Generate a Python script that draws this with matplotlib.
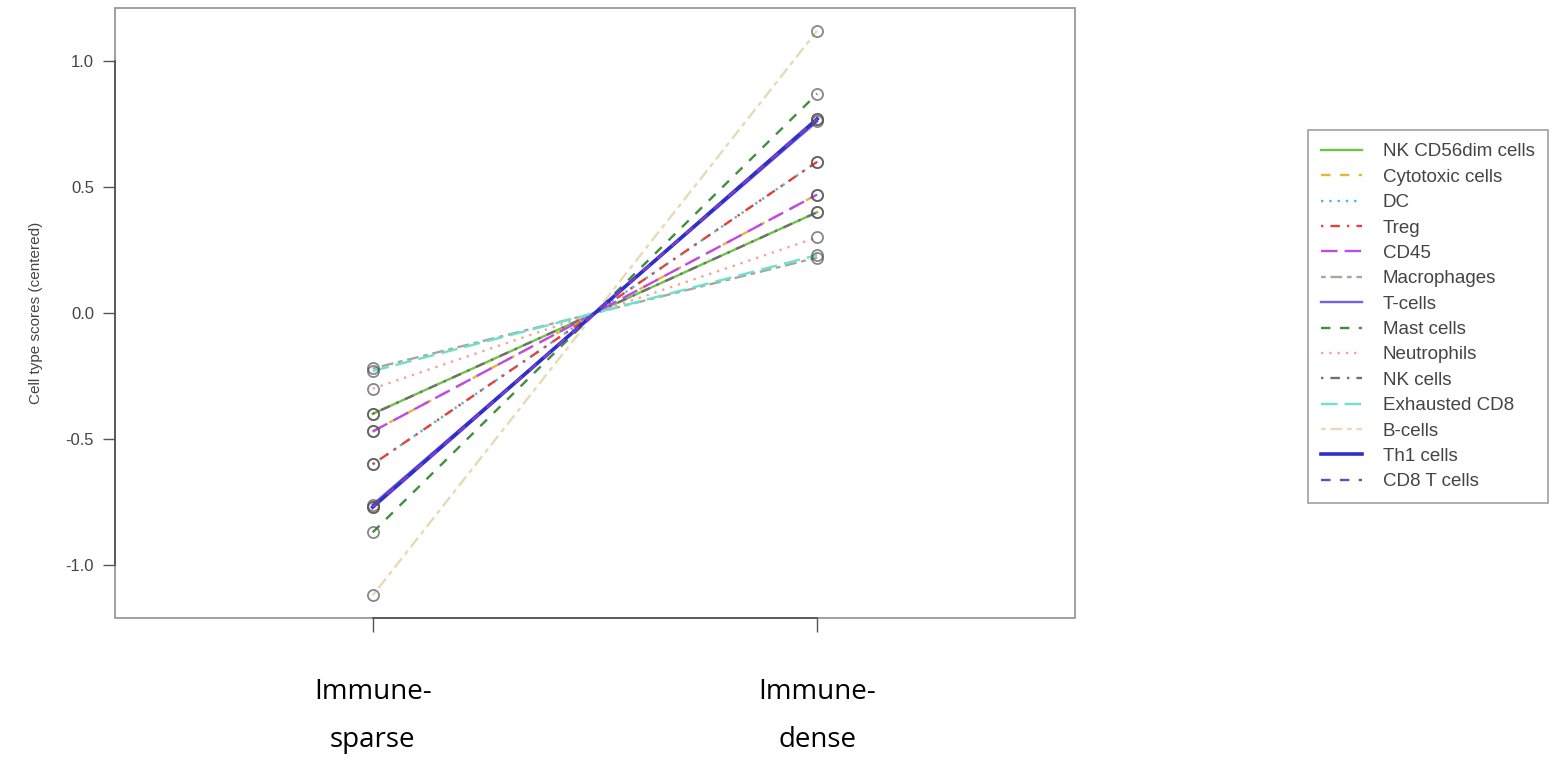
import matplotlib.pyplot as plt
from matplotlib.patches import Rectangle

# data
groups = ["Immune-\nsparse", "Immune-\ndense"]
cell_types = ["NK CD56dim cells", "Cytotoxic cells", "DC", "Treg", "CD45",
              "Macrophages", "T-cells", "Mast cells", "Neutrophils", "NK cells",
              "Exhausted CD8", "B-cells", "Th1 cells", "CD8 T cells"]
dense_scores = [0.40, 0.47, 0.60, 0.60, 0.47, 0.22, 0.76, 0.87, 0.30, 0.40,
                0.23, 1.12, 0.77, 0.77]
sparse_scores = [-v for v in dense_scores]

colors = ["#6cc644", "#e8b53a", "#4fb8e0", "#e0443c", "#c04ae8", "#a8a898",
          "#7262dc", "#3f8f3f", "#f2a49c", "#707070", "#6fe0cf", "#e9d9b4",
          "#2e2ec8", "#7a3fd0"]
styles = ["-", (0, (4, 4)), (0, (1, 2.5)), (0, (1, 3, 4, 3)), (0, (7, 3)),
          (0, (2, 2, 5, 2))]
widths = [1.7] * 12 + [2.6, 1.7]

plt.rcParams['font.family'] = ['Liberation Sans', 'DejaVu Sans']

fig = plt.figure(figsize=(15.66, 7.57), dpi=100)
ax = fig.add_axes([0.0734, 0.1836, 0.6130, 0.8058])

x = [1, 2]
for i, name in enumerate(cell_types):
    ax.plot(x, [sparse_scores[i], dense_scores[i]], color=colors[i],
            ls=styles[i % 6], lw=widths[i], label=name, zorder=2)
    ax.plot(x, [sparse_scores[i], dense_scores[i]], ls="none", marker="o",
            ms=8, mfc="none", mec="#555555", mew=1.3, alpha=0.7, zorder=3)

ax.set_xlim(0.42, 2.58)
ax.set_ylim(-1.21, 1.21)
ax.set_yticks([-1.0, -0.5, 0.0, 0.5, 1.0])
ax.set_yticklabels(["-1.0", "-0.5", "0.0", "0.5", "1.0"])
ax.set_xticks(x)
ax.set_xticklabels(groups, fontsize=20, family=['Open Sans', 'DejaVu Sans'],
                   linespacing=1.95)
ax.tick_params(axis='y', length=9, width=1, colors="#555555", labelsize=12,
               labelcolor="#444444", pad=6)
ax.tick_params(axis='x', length=10, width=1, colors="#555555", pad=33,
               labelcolor="black")
ax.set_ylabel("Cell type scores (centered)", fontsize=11, color="#444444",
              labelpad=16)

# R-style: axis lines span the ticks, light box around the plot
for side in ["top", "right"]:
    ax.spines[side].set_visible(False)
ax.spines["left"].set_bounds(-1.0, 1.0)
ax.spines["bottom"].set_bounds(1, 2)
for side in ["left", "bottom"]:
    ax.spines[side].set_color("#555555")
    ax.spines[side].set_linewidth(1.3)
ax.add_patch(Rectangle((0, 0), 1, 1, transform=ax.transAxes, fill=False,
                       ec="#999999", lw=1.3, clip_on=False, zorder=1))

handles, labels = ax.get_legend_handles_labels()
leg = fig.legend(handles, labels, loc="upper left",
                 bbox_to_anchor=(0.835, 0.828), borderaxespad=0,
                 fontsize=13.5, frameon=True, fancybox=False,
                 edgecolor="#888888", handlelength=2.2, handletextpad=1.1,
                 labelspacing=0.44, borderpad=0.7, labelcolor="#444444")
leg.get_frame().set_linewidth(1.2)

fig.savefig("out.png", dpi=100)
plt.close(fig)
